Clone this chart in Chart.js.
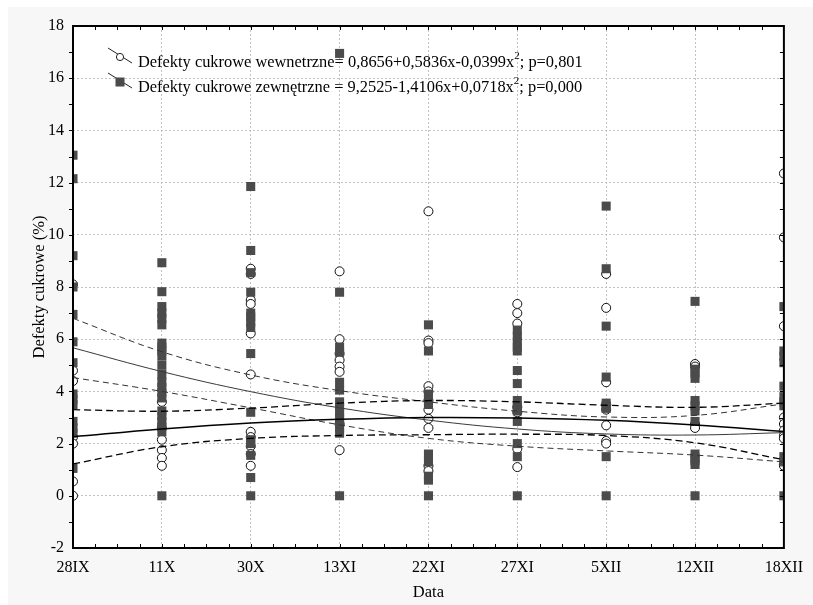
<!DOCTYPE html>
<html>
<head>
<meta charset="utf-8">
<script src="https://cdn.jsdelivr.net/npm/chart.js@4.4.0/dist/chart.umd.min.js"></script>
<style>
  html, body { margin: 0; padding: 0; background: #fff; }
  canvas { display: block; }
</style>
</head>
<body>
<canvas id="defects-chart" width="813" height="605"></canvas>
<script>
// sampling dates on the x axis
const dates = ['28IX', '11X', '30X', '13XI', '22XI', '27XI', '5XII', '12XII', '18XII'];

// internal sugar defects (%), one list per date
const internalDefects = [
    [8.1, 4.8, 4.4, 2.25, 2.0, 0.55, 0],
    [3.6, 2.6, 2.15, 1.75, 1.45, 1.15],
    [8.7, 8.5, 7.5, 7.35, 6.22, 4.65, 2.45, 2.25, 1.9, 1.6, 1.15],
    [8.6, 6.0, 5.45, 5.2, 4.95, 4.75, 2.75, 1.75],
    [10.9, 5.95, 5.85, 4.2, 4.0, 3.65, 3.3, 2.95, 2.6, 1.15, 0.95],
    [7.35, 7.0, 6.6, 3.4, 3.2, 1.8, 1.1],
    [8.5, 7.2, 4.35, 3.5, 3.3, 2.7, 2.1, 2.0],
    [5.05, 4.95, 2.75, 2.6],
    [12.35, 9.9, 6.5, 3.0, 2.75, 2.5, 2.3, 2.2, 1.2, 1.15]
];

// external sugar defects (%), one list per date
const externalDefects = [
    [13.05, 12.15, 9.2, 8.0, 6.95, 5.9, 5.1, 3.9, 3.7, 3.5, 2.85, 2.6, 2.4, 1.05],
    [8.93, 7.82, 7.25, 7.0, 6.8, 6.55, 5.85, 5.7, 5.55, 5.35, 5.0, 4.65, 4.35, 4.15, 3.95, 3.75, 3.25, 3.05, 2.85, 2.65, 2.45, 0],
    [11.85, 9.4, 8.55, 7.8, 7.0, 6.85, 6.65, 6.45, 5.45, 3.2, 2.15, 2.0, 1.55, 0.7, 0],
    [16.95, 7.8, 5.7, 5.5, 4.35, 4.05, 3.6, 3.4, 3.2, 3.0, 2.8, 2.6, 2.4, 0],
    [6.55, 5.55, 3.9, 3.75, 3.5, 1.6, 1.3, 0.75, 0.6, 0],
    [6.35, 6.1, 5.9, 5.7, 5.55, 4.8, 4.3, 3.65, 3.45, 3.25, 2.85, 2.0, 1.5, 0],
    [11.1, 8.7, 6.5, 4.55, 3.55, 3.45, 3.35, 1.5, 0],
    [7.45, 4.85, 4.7, 4.5, 3.65, 3.45, 3.25, 2.85, 1.6, 1.45, 1.35, 1.2, 0],
    [7.25, 5.55, 5.35, 5.1, 4.2, 3.8, 3.6, 3.45, 1.5, 1.3, 0]
];

// quadratic fits at each date and their confidence bands
const internalFit   = [2.26, 2.56, 2.79, 2.93, 3.00, 2.98, 2.89, 2.71, 2.46];
const internalUpper = [3.30, 3.24, 3.36, 3.55, 3.65, 3.60, 3.47, 3.39, 3.55];
const internalLower = [1.22, 1.88, 2.20, 2.31, 2.34, 2.36, 2.31, 2.03, 1.38];
const externalFit   = [5.67, 4.76, 3.99, 3.37, 2.90, 2.56, 2.37, 2.33, 2.42];
const externalUpper = [6.80, 5.52, 4.63, 4.03, 3.60, 3.24, 3.02, 3.08, 3.52];
const externalLower = [4.53, 4.00, 3.37, 2.72, 2.20, 1.90, 1.72, 1.56, 1.30];

const legendLabels = [
    ['Defekty cukrowe wewnetrzne= 0,8656+0,5836x-0,0399x', '2', '; p=0,801'],
    ['Defekty cukrowe zewnętrzne = 9,2525-1,4106x+0,0718x', '2', '; p=0,000']
];

const serif = '"Liberation Serif", "Times New Roman", serif';
const squareColor = '#4b4b4b';

function toPoints(groups) {
    const pts = [];
    groups.forEach((vals, i) => vals.forEach(v => pts.push({ x: i, y: v })));
    return pts;
}

function toLine(vals) {
    return vals.map((v, i) => ({ x: i, y: v }));
}

function curve(vals, color, width, dash) {
    return {
        type: 'line',
        data: toLine(vals),
        borderColor: color,
        borderWidth: width,
        borderDash: dash,
        pointRadius: 0,
        tension: 0.4,
        fill: false
    };
}

// background, frame, ticks, legend and axis titles
const framePlugin = {
    id: 'frame',
    beforeDraw(chart) {
        const ctx = chart.ctx;
        const a = chart.chartArea;
        ctx.save();
        ctx.fillStyle = '#ffffff';
        ctx.fillRect(0, 0, chart.width, chart.height);
        ctx.fillStyle = '#f7f7f7';
        ctx.fillRect(8, 7, chart.width - 8, chart.height - 7);
        ctx.fillStyle = '#ffffff';
        ctx.fillRect(a.left, a.top, a.right - a.left, a.bottom - a.top);
        ctx.restore();
    },
    afterDatasetsDraw(chart) {
        const ctx = chart.ctx;
        const a = chart.chartArea;
        const ys = chart.scales.y;
        ctx.save();
        ctx.strokeStyle = '#000';
        ctx.lineWidth = 1;
        ctx.beginPath();
        // quarter-step ticks on top and bottom
        const step = (a.right - a.left) / 32;
        for (let i = 1; i < 32; i++) {
            const x = Math.round(a.left + i * step) + 0.5;
            ctx.moveTo(x, a.top);
            ctx.lineTo(x, a.top + 4);
            ctx.moveTo(x, a.bottom);
            ctx.lineTo(x, a.bottom - 4);
        }
        // unit ticks on left and right
        for (let v = -1; v < 18; v++) {
            const y = Math.round(ys.getPixelForValue(v)) + 0.5;
            ctx.moveTo(a.left - 4, y);
            ctx.lineTo(a.left, y);
            ctx.moveTo(a.right, y);
            ctx.lineTo(a.right - 4, y);
        }
        ctx.stroke();
        ctx.lineWidth = 2;
        ctx.strokeRect(a.left, a.top, a.right - a.left, a.bottom - a.top);
        ctx.restore();
    },
    afterDraw(chart) {
        const ctx = chart.ctx;
        const a = chart.chartArea;
        ctx.save();
        ctx.fillStyle = '#000';

        // axis titles
        ctx.font = '16.5px ' + serif;
        ctx.textAlign = 'center';
        ctx.textBaseline = 'middle';
        ctx.fillText('Data', (a.left + a.right) / 2, 593);
        ctx.translate(40, (a.top + a.bottom) / 2);
        ctx.rotate(-Math.PI / 2);
        ctx.fillText('Defekty cukrowe (%)', 0, 0);
        ctx.setTransform(1, 0, 0, 1, 0, 0);

        // legend with slanted line samples
        const rows = [57, 82];
        rows.forEach((my, k) => {
            ctx.strokeStyle = '#222';
            ctx.lineWidth = 1;
            ctx.beginPath();
            ctx.moveTo(108, my - 9);
            ctx.lineTo(132, my + 6);
            ctx.stroke();
            if (k === 0) {
                ctx.fillStyle = '#fff';
                ctx.beginPath();
                ctx.arc(120, my, 3.6, 0, Math.PI * 2);
                ctx.fill();
                ctx.stroke();
            } else {
                ctx.fillStyle = squareColor;
                ctx.fillRect(115.5, my - 4.5, 9, 9);
            }
            const parts = legendLabels[k];
            const ty = my + 5.5;
            ctx.fillStyle = '#000';
            ctx.textAlign = 'left';
            ctx.textBaseline = 'middle';
            ctx.font = '16.4px ' + serif;
            let x = 138;
            ctx.fillText(parts[0], x, ty);
            x += ctx.measureText(parts[0]).width;
            ctx.font = '11px ' + serif;
            ctx.fillText(parts[1], x, ty - 6);
            x += ctx.measureText(parts[1]).width;
            ctx.font = '16.4px ' + serif;
            ctx.fillText(parts[2], x, ty);
        });
        ctx.restore();
    }
};

var ctx = document.getElementById('defects-chart').getContext('2d');
var defectsChart = new Chart(ctx, {
    type: 'scatter',
    data: {
        datasets: [
            curve(internalFit, '#000', 1.5, []),
            curve(externalFit, '#3a3a3a', 1, []),
            curve(internalUpper, '#000', 1.3, [7, 4]),
            curve(internalLower, '#000', 1.3, [7, 4]),
            curve(externalUpper, '#333', 1, [6, 4]),
            curve(externalLower, '#333', 1, [6, 4]),
            {
                label: 'Defekty cukrowe zewnętrzne',
                data: toPoints(externalDefects),
                pointStyle: 'rect',
                pointRadius: 6.4,
                backgroundColor: squareColor,
                borderWidth: 0,
                clip: 0
            },
            {
                label: 'Defekty cukrowe wewnetrzne',
                data: toPoints(internalDefects),
                pointStyle: 'circle',
                pointRadius: 4.5,
                backgroundColor: '#fff',
                borderColor: '#111',
                borderWidth: 1,
                clip: 0
            }
        ]
    },
    options: {
        responsive: false,
        animation: false,
        devicePixelRatio: 1,
        layout: { padding: { left: 0, top: 26, right: 22, bottom: 0 } },
        plugins: {
            legend: { display: false },
            tooltip: { enabled: false }
        },
        scales: {
            x: {
                type: 'linear',
                min: 0,
                max: 8,
                afterFit: function (scale) { scale.height = 57; },
                ticks: {
                    stepSize: 1,
                    padding: 10,
                    color: '#000',
                    font: { family: serif, size: 16 },
                    callback: function (v) { return dates[v]; }
                },
                grid: { color: '#c2c2c2', lineWidth: 1, drawTicks: false },
                border: { display: false, dash: [2, 2] }
            },
            y: {
                min: -2,
                max: 18,
                afterFit: function (scale) { scale.width = 73; },
                ticks: {
                    stepSize: 2,
                    padding: 9,
                    color: '#000',
                    font: { family: serif, size: 16 }
                },
                grid: { color: '#c2c2c2', lineWidth: 1, drawTicks: false },
                border: { display: false, dash: [2, 2] }
            }
        }
    },
    plugins: [framePlugin]
});
</script>
</body>
</html>
